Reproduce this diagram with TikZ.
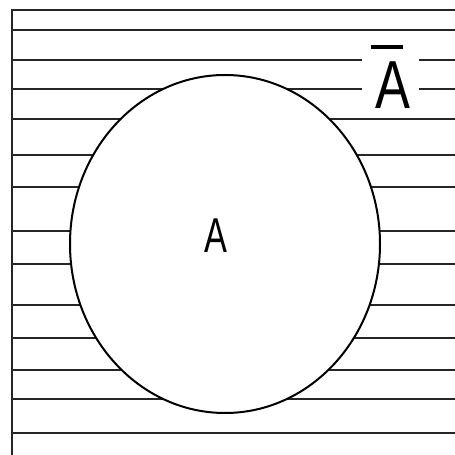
\documentclass[tikz,border=0pt]{standalone}
\usepackage{fontspec}
\setmainfont{Liberation Sans}
\tikzset{
  hatch/.style={
    line width=2.9pt,
    black!85
  },
  frame/.style={
    line width=2.4pt,
    black!85
  },
  setshape/.style={
    draw,
    line width=2pt,
    fill=white
  },
  setname/.style={
    inner sep=0pt,
    font=\fontsize{49}{50}\selectfont
  },
  complname/.style={
    fill=white,
    inner xsep=9.5pt,
    inner ysep=1pt,
    font=\fontsize{68}{70}\selectfont
  }
}

\begin{document}
\begin{tikzpicture}[x=1pt,y=1pt]
            \useasboundingbox (0,0) rectangle (455,455);
            \foreach \y in {425,395,366,336,300,268,224,191,150,117,85,56,22}{
                    \draw[hatch] (12,\y) -- (455,\y);
                }
            \draw[frame] (455,445) -- (12,445) -- (12,0);
            \draw[setshape] (225,211) ellipse [x radius=155, y radius=169];
            \node[setname] (setA) at (216,219) {\scalebox{0.7}[1]{A}};
            \node[complname] (notA) at (390.5,378) {\vbox{\offinterlineskip\hbox{\vrule width 32pt height 4pt}\kern13pt\hbox{\kern4pt\scalebox{0.77}[1]{A}}}};
        \end{tikzpicture}
\end{document}
